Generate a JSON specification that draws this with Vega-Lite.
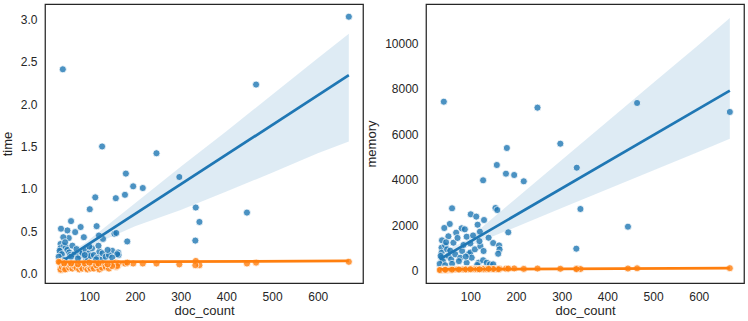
{
  "$schema": "https://vega.github.io/schema/vega-lite/v6.json",
  "background": "white",
  "padding": {"left": 0, "top": 3, "right": 0, "bottom": 0},
  "bounds": "flush",
  "spacing": 63,
  "config": {
    "font": "Liberation Sans",
    "view": {"stroke": "#262626", "strokeWidth": 1.25},
    "axis": {"grid": false, "domain": false, "ticks": false, "labelFontSize": 12, "titleFontSize": 13, "titleFontWeight": "normal", "labelColor": "#262626", "titleColor": "#262626", "labelFont": "Liberation Sans", "titleFont": "Liberation Sans"},
    "axisX": {"labelPadding": 8, "titlePadding": 2},
    "axisY": {"labelPadding": 8, "titlePadding": 6}
  },
  "datasets": {
    "points": [
      {"doc_count":42,"time":2.41,"memory":7432,"series":"A"},{"doc_count":668,"time":3.03,"memory":6980,"series":"A"},{"doc_count":465,"time":2.23,"memory":7375,"series":"A"},{"doc_count":247,"time":1.42,"memory":7170,"series":"A"},{"doc_count":297,"time":1.14,"memory":5585,"series":"A"},{"doc_count":180,"time":1.18,"memory":5396,"series":"A"},{"doc_count":333,"time":0.78,"memory":4530,"series":"A"},{"doc_count":158,"time":0.89,"memory":4648,"series":"A"},{"doc_count":178,"time":0.93,"memory":4266,"series":"A"},{"doc_count":196,"time":1.03,"memory":4208,"series":"A"},{"doc_count":217,"time":1.01,"memory":3931,"series":"A"},{"doc_count":128,"time":1.5,"memory":3975,"series":"A"},{"doc_count":341,"time":0.61,"memory":2713,"series":"A"},{"doc_count":60,"time":0.62,"memory":2744,"series":"A"},{"doc_count":155,"time":0.47,"memory":2757,"series":"A"},{"doc_count":159,"time":0.48,"memory":2668,"series":"A"},{"doc_count":445,"time":0.72,"memory":1935,"series":"A"},{"doc_count":332,"time":0.39,"memory":968,"series":"A"},{"doc_count":183,"time":0.38,"memory":1688,"series":"A"},{"doc_count":101,"time":0.76,"memory":2480,"series":"A"},{"doc_count":113,"time":0.9,"memory":2378,"series":"A"},{"doc_count":130,"time":0.41,"memory":2229,"series":"A"},{"doc_count":55,"time":0.42,"memory":2054,"series":"A"},{"doc_count":43,"time":0.43,"memory":1878,"series":"A"},{"doc_count":81,"time":0.55,"memory":1864,"series":"A"},{"doc_count":116,"time":0.56,"memory":2023,"series":"A"},{"doc_count":121,"time":0.45,"memory":1716,"series":"A"},{"doc_count":69,"time":0.49,"memory":1672,"series":"A"},{"doc_count":88,"time":0.43,"memory":1820,"series":"A"},{"doc_count":52,"time":0.51,"memory":1512,"series":"A"},{"doc_count":38,"time":0.53,"memory":1336,"series":"A"},{"doc_count":150,"time":0.27,"memory":1217,"series":"A"},{"doc_count":163,"time":0.25,"memory":1111,"series":"A"},{"doc_count":164,"time":0.22,"memory":935,"series":"A"},{"doc_count":161,"time":0.23,"memory":745,"series":"A"},
      {"doc_count":37,"time":0.35,"memory":1010,"series":"A"},{"doc_count":37,"time":0.25,"memory":790,"series":"A"},{"doc_count":37,"time":0.3,"memory":570,"series":"A"},{"doc_count":35,"time":0.27,"memory":650,"series":"A"},{"doc_count":40,"time":0.23,"memory":420,"series":"A"},{"doc_count":33,"time":0.2,"memory":300,"series":"A"},{"doc_count":45,"time":0.33,"memory":1110,"series":"A"},{"doc_count":49,"time":0.31,"memory":940,"series":"A"},{"doc_count":52,"time":0.28,"memory":650,"series":"A"},{"doc_count":47,"time":0.37,"memory":1250,"series":"A"},{"doc_count":56,"time":0.25,"memory":880,"series":"A"},{"doc_count":58,"time":0.22,"memory":500,"series":"A"},{"doc_count":63,"time":0.33,"memory":1231,"series":"A"},{"doc_count":67,"time":0.23,"memory":720,"series":"A"},{"doc_count":72,"time":0.29,"memory":1440,"series":"A"},{"doc_count":78,"time":0.21,"memory":570,"series":"A"},{"doc_count":82,"time":0.26,"memory":866,"series":"A"},{"doc_count":85,"time":0.24,"memory":1130,"series":"A"},{"doc_count":92,"time":0.19,"memory":350,"series":"A"},{"doc_count":92,"time":0.28,"memory":1495,"series":"A"},{"doc_count":96,"time":0.18,"memory":730,"series":"A"},{"doc_count":100,"time":0.24,"memory":795,"series":"A"},{"doc_count":103,"time":0.21,"memory":572,"series":"A"},{"doc_count":106,"time":0.3,"memory":1550,"series":"A"},{"doc_count":110,"time":0.22,"memory":940,"series":"A"},{"doc_count":118,"time":0.19,"memory":350,"series":"A"},{"doc_count":122,"time":0.26,"memory":1080,"series":"A"},{"doc_count":128,"time":0.17,"memory":460,"series":"A"},{"doc_count":129,"time":0.24,"memory":866,"series":"A"},{"doc_count":136,"time":0.2,"memory":350,"series":"A"},{"doc_count":143,"time":0.22,"memory":280,"series":"A"},{"doc_count":150,"time":0.19,"memory":280,"series":"A"},{"doc_count":140,"time":0.28,"memory":1451,"series":"A"},{"doc_count":90,"time":0.22,"memory":620,"series":"A"},{"doc_count":75,"time":0.18,"memory":420,"series":"A"},{"doc_count":60,"time":0.2,"memory":300,"series":"A"},{"doc_count":115,"time":0.17,"memory":250,"series":"A"},{"doc_count":45,"time":0.16,"memory":240,"series":"A"},{"doc_count":100,"time":0.32,"memory":1200,"series":"A"},{"doc_count":120,"time":0.33,"memory":1300,"series":"A"},
      {"doc_count":42,"time":0.13,"memory":60,"series":"B"},{"doc_count":668,"time":0.14,"memory":110,"series":"B"},{"doc_count":465,"time":0.13,"memory":105,"series":"B"},{"doc_count":247,"time":0.12,"memory":95,"series":"B"},{"doc_count":297,"time":0.11,"memory":85,"series":"B"},{"doc_count":180,"time":0.12,"memory":95,"series":"B"},{"doc_count":333,"time":0.15,"memory":90,"series":"B"},{"doc_count":158,"time":0.13,"memory":80,"series":"B"},{"doc_count":178,"time":0.12,"memory":85,"series":"B"},{"doc_count":196,"time":0.12,"memory":100,"series":"B"},{"doc_count":217,"time":0.12,"memory":80,"series":"B"},{"doc_count":128,"time":0.1,"memory":70,"series":"B"},{"doc_count":341,"time":0.1,"memory":75,"series":"B"},{"doc_count":60,"time":0.09,"memory":50,"series":"B"},{"doc_count":155,"time":0.12,"memory":65,"series":"B"},{"doc_count":159,"time":0.08,"memory":60,"series":"B"},{"doc_count":445,"time":0.12,"memory":95,"series":"B"},{"doc_count":332,"time":0.1,"memory":70,"series":"B"},{"doc_count":183,"time":0.13,"memory":90,"series":"B"},{"doc_count":101,"time":0.11,"memory":70,"series":"B"},{"doc_count":113,"time":0.12,"memory":75,"series":"B"},{"doc_count":130,"time":0.09,"memory":60,"series":"B"},{"doc_count":55,"time":0.06,"memory":45,"series":"B"},{"doc_count":43,"time":0.05,"memory":40,"series":"B"},{"doc_count":81,"time":0.1,"memory":55,"series":"B"},{"doc_count":116,"time":0.07,"memory":55,"series":"B"},{"doc_count":121,"time":0.1,"memory":65,"series":"B"},{"doc_count":69,"time":0.08,"memory":50,"series":"B"},{"doc_count":88,"time":0.09,"memory":60,"series":"B"},{"doc_count":52,"time":0.07,"memory":45,"series":"B"},{"doc_count":38,"time":0.04,"memory":35,"series":"B"},{"doc_count":150,"time":0.11,"memory":70,"series":"B"},{"doc_count":163,"time":0.1,"memory":75,"series":"B"},{"doc_count":164,"time":0.12,"memory":80,"series":"B"},{"doc_count":161,"time":0.09,"memory":65,"series":"B"},
      {"doc_count":37,"time":0.14,"memory":40,"series":"B"},{"doc_count":37,"time":0.07,"memory":45,"series":"B"},{"doc_count":37,"time":0.05,"memory":30,"series":"B"},{"doc_count":35,"time":0.13,"memory":35,"series":"B"},{"doc_count":40,"time":0.08,"memory":40,"series":"B"},{"doc_count":33,"time":0.14,"memory":30,"series":"B"},{"doc_count":45,"time":0.09,"memory":50,"series":"B"},{"doc_count":49,"time":0.06,"memory":45,"series":"B"},{"doc_count":52,"time":0.11,"memory":40,"series":"B"},{"doc_count":47,"time":0.05,"memory":35,"series":"B"},{"doc_count":56,"time":0.07,"memory":50,"series":"B"},{"doc_count":58,"time":0.1,"memory":45,"series":"B"},{"doc_count":63,"time":0.06,"memory":50,"series":"B"},{"doc_count":67,"time":0.09,"memory":55,"series":"B"},{"doc_count":72,"time":0.07,"memory":60,"series":"B"},{"doc_count":78,"time":0.05,"memory":50,"series":"B"},{"doc_count":82,"time":0.08,"memory":60,"series":"B"},{"doc_count":85,"time":0.06,"memory":55,"series":"B"},{"doc_count":92,"time":0.1,"memory":60,"series":"B"},{"doc_count":92,"time":0.07,"memory":65,"series":"B"},{"doc_count":96,"time":0.05,"memory":55,"series":"B"},{"doc_count":100,"time":0.08,"memory":60,"series":"B"},{"doc_count":103,"time":0.06,"memory":65,"series":"B"},{"doc_count":106,"time":0.09,"memory":70,"series":"B"},{"doc_count":110,"time":0.06,"memory":60,"series":"B"},{"doc_count":118,"time":0.08,"memory":65,"series":"B"},{"doc_count":122,"time":0.05,"memory":70,"series":"B"},{"doc_count":128,"time":0.07,"memory":75,"series":"B"},{"doc_count":129,"time":0.12,"memory":70,"series":"B"},{"doc_count":136,"time":0.08,"memory":65,"series":"B"},{"doc_count":143,"time":0.06,"memory":70,"series":"B"},{"doc_count":150,"time":0.09,"memory":75,"series":"B"},{"doc_count":140,"time":0.11,"memory":80,"series":"B"},{"doc_count":90,"time":0.12,"memory":55,"series":"B"},{"doc_count":75,"time":0.11,"memory":50,"series":"B"},{"doc_count":60,"time":0.12,"memory":45,"series":"B"},{"doc_count":115,"time":0.1,"memory":60,"series":"B"},{"doc_count":45,"time":0.12,"memory":40,"series":"B"},{"doc_count":100,"time":0.13,"memory":65,"series":"B"},{"doc_count":120,"time":0.12,"memory":60,"series":"B"}
    ],
    "fit": [
      {"doc_count":33,"time":0.12,"memory":501,"series":"A"},{"doc_count":668,"time":2.34,"memory":7918,"series":"A"},
      {"doc_count":33,"time":0.138,"memory":55,"series":"B"},{"doc_count":668,"time":0.15,"memory":110,"series":"B"}
    ],
    "band": [
      {"doc_count":33,"time_lo":0.06,"time_hi":0.19,"memory_lo":250,"memory_hi":800},
      {"doc_count":60,"time_lo":0.165,"time_hi":0.265,"memory_lo":640,"memory_hi":1020},
      {"doc_count":90,"time_lo":0.28,"time_hi":0.36,"memory_lo":1017,"memory_hi":1317},
      {"doc_count":130,"time_lo":0.39,"time_hi":0.53,"memory_lo":1347,"memory_hi":1993},
      {"doc_count":200,"time_lo":0.56,"time_hi":0.83,"memory_lo":1926,"memory_hi":3177},
      {"doc_count":300,"time_lo":0.75,"time_hi":1.26,"memory_lo":2752,"memory_hi":4868},
      {"doc_count":400,"time_lo":0.97,"time_hi":1.68,"memory_lo":3577,"memory_hi":6558},
      {"doc_count":500,"time_lo":1.19,"time_hi":2.11,"memory_lo":4404,"memory_hi":8250},
      {"doc_count":600,"time_lo":1.42,"time_hi":2.54,"memory_lo":5230,"memory_hi":9941},
      {"doc_count":668,"time_lo":1.56,"time_hi":2.83,"memory_lo":5800,"memory_hi":11110}
    ]
  },
  "hconcat": [
    {
      "width": 318,
      "height": 279,
      "layer": [
        {
          "data": {"name": "band"},
          "mark": {"type": "area", "color": "#1f77b4", "opacity": 0.15},
          "encoding": {
            "x": {"field": "doc_count", "type": "quantitative", "scale": {"domain": [3, 699], "nice": false, "zero": false}, "axis": {"values": [100, 200, 300, 400, 500, 600], "title": "doc_count"}},
            "y": {"field": "time_lo", "type": "quantitative", "scale": {"domain": [-0.11, 3.18], "nice": false, "zero": false}, "axis": {"values": [0, 0.5, 1, 1.5, 2, 2.5, 3], "format": ".1f", "title": "time", "minExtent": 25, "maxExtent": 25}},
            "y2": {"field": "time_hi"}
          }
        },
        {
          "data": {"name": "points"},
          "transform": [{"filter": "datum.series == 'A'"}],
          "mark": {"type": "circle", "size": 50, "color": "#1f77b4", "opacity": 0.8, "stroke": "white", "strokeWidth": 0.8},
          "encoding": {
            "x": {"field": "doc_count", "type": "quantitative"},
            "y": {"field": "time", "type": "quantitative"}
          }
        },
        {
          "data": {"name": "fit"},
          "transform": [{"filter": "datum.series == 'A'"}],
          "mark": {"type": "line", "color": "#1f77b4", "strokeWidth": 2.7},
          "encoding": {
            "x": {"field": "doc_count", "type": "quantitative"},
            "y": {"field": "time", "type": "quantitative"}
          }
        },
        {
          "data": {"name": "points"},
          "transform": [{"filter": "datum.series == 'B'"}],
          "mark": {"type": "circle", "size": 50, "color": "#ff7f0e", "opacity": 0.8, "stroke": "white", "strokeWidth": 0.8},
          "encoding": {
            "x": {"field": "doc_count", "type": "quantitative"},
            "y": {"field": "time", "type": "quantitative"}
          }
        },
        {
          "data": {"name": "fit"},
          "transform": [{"filter": "datum.series == 'B'"}],
          "mark": {"type": "line", "color": "#ff7f0e", "strokeWidth": 2.7},
          "encoding": {
            "x": {"field": "doc_count", "type": "quantitative"},
            "y": {"field": "time", "type": "quantitative"}
          }
        }
      ]
    },
    {
      "width": 318,
      "height": 279,
      "layer": [
        {
          "data": {"name": "band"},
          "mark": {"type": "area", "color": "#1f77b4", "opacity": 0.15},
          "encoding": {
            "x": {"field": "doc_count", "type": "quantitative", "scale": {"domain": [3, 699], "nice": false, "zero": false}, "axis": {"values": [100, 200, 300, 400, 500, 600], "title": "doc_count"}},
            "y": {"field": "memory_lo", "type": "quantitative", "scale": {"domain": [-541, 11728], "nice": false, "zero": false}, "axis": {"values": [0, 2000, 4000, 6000, 8000, 10000], "format": "d", "title": "memory", "minExtent": 42, "maxExtent": 42}},
            "y2": {"field": "memory_hi"}
          }
        },
        {
          "data": {"name": "points"},
          "transform": [{"filter": "datum.series == 'A'"}],
          "mark": {"type": "circle", "size": 50, "color": "#1f77b4", "opacity": 0.8, "stroke": "white", "strokeWidth": 0.8},
          "encoding": {
            "x": {"field": "doc_count", "type": "quantitative"},
            "y": {"field": "memory", "type": "quantitative"}
          }
        },
        {
          "data": {"name": "fit"},
          "transform": [{"filter": "datum.series == 'A'"}],
          "mark": {"type": "line", "color": "#1f77b4", "strokeWidth": 2.7},
          "encoding": {
            "x": {"field": "doc_count", "type": "quantitative"},
            "y": {"field": "memory", "type": "quantitative"}
          }
        },
        {
          "data": {"name": "points"},
          "transform": [{"filter": "datum.series == 'B'"}],
          "mark": {"type": "circle", "size": 50, "color": "#ff7f0e", "opacity": 0.8, "stroke": "white", "strokeWidth": 0.8},
          "encoding": {
            "x": {"field": "doc_count", "type": "quantitative"},
            "y": {"field": "memory", "type": "quantitative"}
          }
        },
        {
          "data": {"name": "fit"},
          "transform": [{"filter": "datum.series == 'B'"}],
          "mark": {"type": "line", "color": "#ff7f0e", "strokeWidth": 2.7},
          "encoding": {
            "x": {"field": "doc_count", "type": "quantitative"},
            "y": {"field": "memory", "type": "quantitative"}
          }
        }
      ]
    }
  ]
}
